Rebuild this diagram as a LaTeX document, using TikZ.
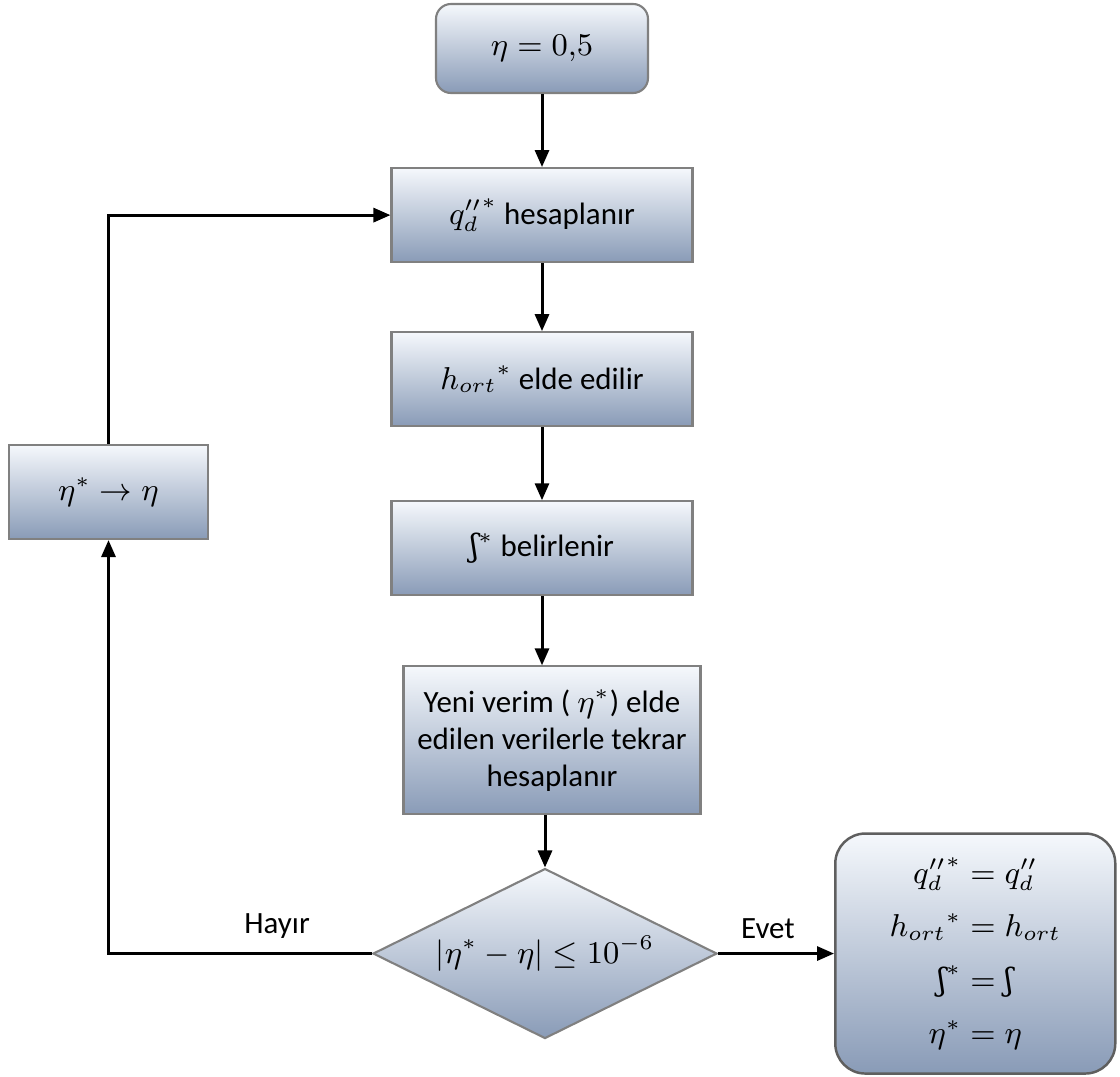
\documentclass[tikz,border=0pt]{standalone}
\usepackage{amsmath}
\usepackage{fontspec}
\setmainfont{Carlito}
\newfontfamily\eshfont{DejaVu Serif}
\usetikzlibrary{positioning, arrows.meta, shapes.geometric}

\definecolor{boxtop}{RGB}{245,248,252}
\definecolor{boxbot}{RGB}{137,155,183}
\definecolor{boxline}{RGB}{128,128,128}
\definecolor{endline}{RGB}{95,95,95}

\begin{document}
\begin{tikzpicture}[
    node distance=0.72cm,
    block/.style={rectangle, draw=boxline, line width=0.6pt,
                  top color=boxtop, bottom color=boxbot,
                  minimum height=0.94cm, minimum width=3.01cm,
                  align=center, font=\fontsize{8.8}{10.5}\selectfont},
    rblock/.style={block, rounded corners=0.15cm,
                  minimum height=0.89cm, minimum width=2.12cm},
    eblock/.style={block, draw=endline, line width=0.7pt, rounded corners=0.3cm,
                  minimum height=2.40cm, minimum width=2.80cm,
                  font=\fontsize{8.8}{15.2}\selectfont},
    decision/.style={diamond, draw=boxline, line width=0.6pt,
                  top color=boxtop, bottom color=boxbot, aspect=2, inner sep=0pt,
                  minimum width=3.44cm, minimum height=1.70cm,
                  font=\fontsize{8.8}{10.5}\selectfont},
    lbl/.style={inner sep=1pt, font=\fontsize{8.8}{10.5}\selectfont},
    arr/.style={-{Triangle[length=0.17cm, width=0.14cm]}, line width=0.85pt},
]
\useasboundingbox (0,0) rectangle (11.2,-10.77);
\node[rblock] (start) at (5.42,-0.485) {$\eta = 0{,}5$};
\node[block, below=0.73cm of start] (qcalc) {${q''_d}^{*}$ hesaplanır};
\node[block, below=0.68cm of qcalc] (hcalc) {${h_{ort}}^{*}$ elde edilir};
\node[block, below=0.73cm of hcalc] (fcalc) {{\eshfont ʃ}$^{*}$ belirlenir};
\node[block, below=0.69cm of fcalc, xshift=0.1cm, minimum width=2.97cm,
      minimum height=1.48cm] (neweta) {Yeni verim ( $\eta^{*}$) elde\\edilen verilerle tekrar\\hesaplanır};
\node[decision, below=0.52cm of neweta, xshift=-0.07cm] (check) {$|\eta^{*} - \eta| \leq 10^{-6}$};
\node[block, minimum width=1.99cm] (update) at (1.085,-4.92) {$\eta^{*} \rightarrow \eta$};
\node[eblock, right=1.16cm of check] (result) {${q''_d}^{*} = q''_d$\\${h_{ort}}^{*} = h_{ort}$\\$\mbox{\eshfont ʃ}^{*} = \mbox{\eshfont ʃ}$\\$\eta^{*} = \eta$};
\draw[arr] (start) -- (qcalc);
\draw[arr] (qcalc) -- (hcalc);
\draw[arr] (hcalc) -- (fcalc);
\draw[arr] (fcalc) -- (fcalc |- neweta.north);
\draw[arr] (neweta.south -| check) -- (check);
\draw[arr] (check.east) -- node[lbl, above=0.1cm, pos=0.43] {Evet} (result.west);
\draw[arr] (check.west) -| node[lbl, above=0.1cm, pos=0.18] {Hayır} (update.south);
\draw[arr] (update.north) |- (qcalc.west);
\end{tikzpicture}
\end{document}
